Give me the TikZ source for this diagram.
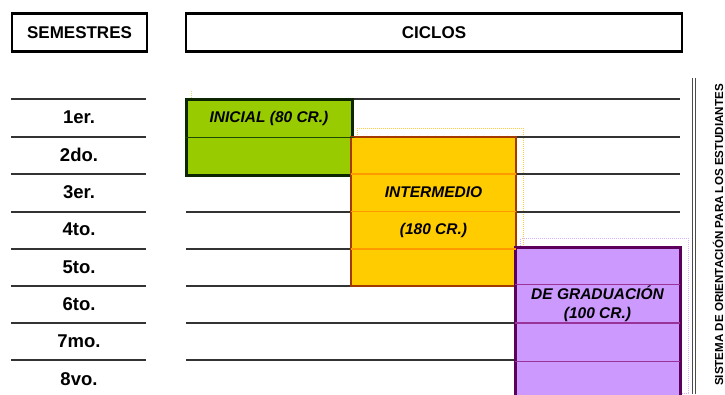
\documentclass[tikz,border=0pt]{standalone}
\usepackage{fontspec}
\setmainfont{Liberation Sans}
\usetikzlibrary{calc, backgrounds}
\definecolor{inifill}{HTML}{99CC00}
\definecolor{iniedge}{HTML}{0B2600}
\definecolor{inirule}{HTML}{1E4A00}
\definecolor{inishade}{HTML}{C8E27A}
\definecolor{intfill}{HTML}{FFCC00}
\definecolor{intedge}{HTML}{A33A00}
\definecolor{intrule}{HTML}{FF9900}
\definecolor{intshade}{HTML}{FFCC44}
\definecolor{gradfill}{HTML}{CC99FF}
\definecolor{gradedge}{HTML}{5C005C}
\definecolor{gradrule}{HTML}{993399}
\definecolor{gradshade}{HTML}{D6B0FF}
\tikzset{
    head-box/.style={
        draw, line width=2.5pt, inner sep=0pt, minimum height=38pt,
        font=\fontsize{17}{20}\selectfont\bfseries
    },
    sem-label/.style={inner sep=0pt, font=\fontsize{18.5}{22}\selectfont\bfseries},
    row-line/.style={draw=black!80, line width=1.4pt},
    cycle-box/.style={inner sep=0pt},
    cycle-text/.style={inner sep=0pt, align=center, font=\fontsize{15.5}{19}\selectfont\bfseries\itshape},
    shade-line/.style={densely dotted, line width=1pt},
}

\begin{document}
\begin{tikzpicture}[x=1pt, y=-1pt]
    \useasboundingbox (0,0) rectangle (725,394);

        % HEADERS
        \node[head-box, minimum width=135pt] (SEM) at (79.5,32.5)  {SEMESTRES};
        \node[head-box, minimum width=496pt] (CIC) at (434,32.5)   {CICLOS};

        % ROW LINES
        \foreach \y in {99,137,174,212,249,286,323,360} {
            \draw[row-line] (11,\y)  -- (146,\y);
            \draw[row-line] (186,\y) -- (680,\y);
        }

        % SEMESTERS
        \foreach \lab [count=\i] in {1er.,2do.,3er.,4to.,5to.,6to.,7mo.,8vo.} {
            \node[sem-label] (S\i) at (79,{99+37.3*(\i-0.5)}) {\lab};
        }

        % CYCLE BOXES
        \node[cycle-box, fill=inifill, draw=iniedge, line width=3pt,
              minimum width=166pt, minimum height=76pt]   (INI)  at (269,137)     {};
        \node[cycle-box, fill=intfill, draw=intedge, line width=1.8pt,
              minimum width=165pt, minimum height=149pt]  (INT)  at (433.5,211.5) {};
        \node[cycle-box, fill=gradfill, draw=gradedge, line width=3pt,
              minimum width=165pt, minimum height=152pt]  (GRAD) at (597.5,323)   {};

        % RULES INSIDE THE BOXES
        \draw[inirule, line width=1pt] (INI.west) -- (INI.east);
        \foreach \f in {.25,.5,.75} {
            \draw[intrule, line width=1.5pt]
                ($(INT.north west)!\f!(INT.south west)+(1,0)$) -- ($(INT.north east)!\f!(INT.south east)+(-1,0)$);
            \draw[gradrule, line width=1.2pt]
                ($(GRAD.north west)!\f!(GRAD.south west)+(1.5,0)$) -- ($(GRAD.north east)!\f!(GRAD.south east)+(-1.5,0)$);
        }

        % SHADES
        \begin{scope}[on background layer]
            \draw[shade-line, draw=inishade]  ($(INI.north west)+(7,-7)$) -- ($(INI.north west)+(7,0)$);
            \draw[shade-line, draw=intshade]  ($(INT.north west)+(7,-8)$) rectangle ($(INT.south east)+(7,-8)$);
            \draw[shade-line, draw=gradshade] ($(GRAD.north west)+(7,-7)$) rectangle ($(GRAD.south east)+(7,-7)$);
        \end{scope}

        % CYCLE TEXTS
        \node[cycle-text] (INI-T)  at ($(INI.north)!.5!(INI.center)+(0,1)$)   {INICIAL (80 CR.)};
        \node[cycle-text] (INT-T1) at ($(INT.north)!.375!(INT.south)$)        {INTERMEDIO};
        \node[cycle-text] (INT-T2) at ($(INT.north)!.625!(INT.south)$)        {(180 CR.)};
        \node[cycle-text] (GRAD-T) at ($(GRAD.north)!.375!(GRAD.south)$)      {DE GRADUACIÓN\\(100 CR.)};

        % SIDE BAR
        \coordinate[] (BAR1T) at (692,78);
        \coordinate[] (BAR1B) at (692,394);
        \coordinate[] (BAR2T) at (695.5,78);
        \coordinate[] (BAR2B) at (695.5,394);
        \draw[black!70, line width=1pt] (BAR1T) -- (BAR1B);
        \draw[black!70, line width=1pt] (BAR2T) -- (BAR2B);
        \node[rotate=90, inner sep=0pt, font=\fontsize{11.6}{13}\selectfont\bfseries] (SOE) at (718,235)
            {SISTEMA DE ORIENTACIÓN PARA LOS ESTUDIANTES};

\end{tikzpicture}
\end{document}
